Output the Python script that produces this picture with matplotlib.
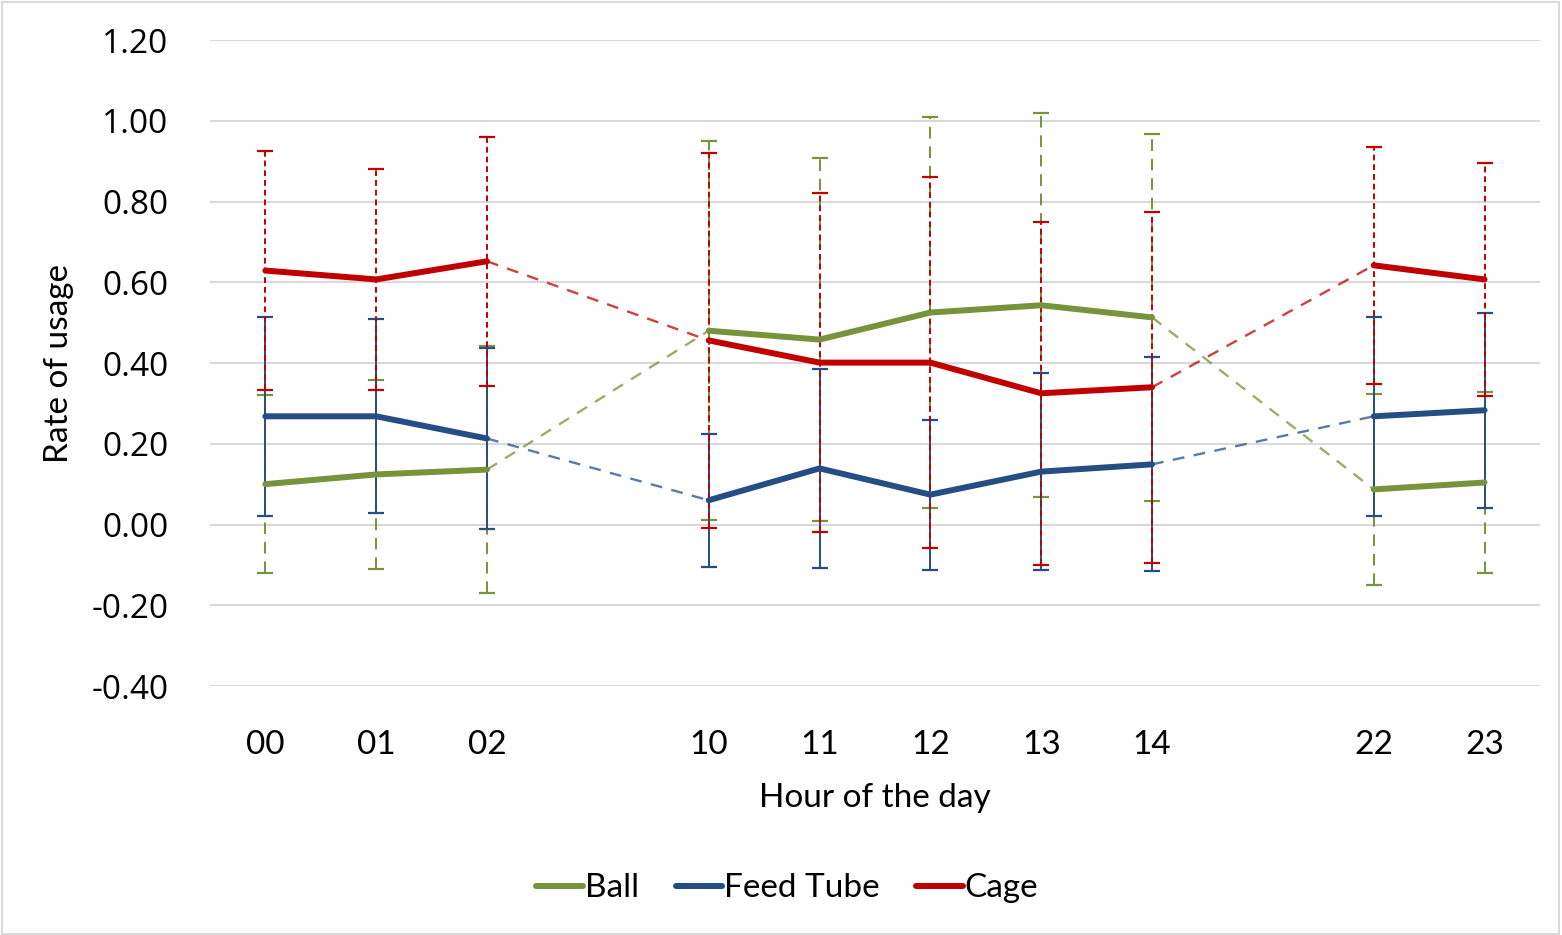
import matplotlib.pyplot as plt
from matplotlib.patches import Rectangle
import numpy as np

plt.rcParams['font.family'] = ['Lato', 'DejaVu Sans']

# category slots on the x axis (blank slots are the gaps between hour groups)
slots = ['00', '01', '02', '', '10', '11', '12', '13', '14', '', '22', '23']
hours = ['00', '01', '02', '10', '11', '12', '13', '14', '22', '23']

ball = [0.10, 0.124, 0.136, 0.48, 0.458, 0.525, 0.543, 0.513, 0.087, 0.104]
ball_err = [0.22, 0.235, 0.306, 0.47, 0.45, 0.485, 0.475, 0.455, 0.237, 0.225]

feed = [0.268, 0.268, 0.213, 0.06, 0.139, 0.074, 0.131, 0.149, 0.268, 0.283]
feed_err = [0.247, 0.24, 0.225, 0.165, 0.246, 0.186, 0.244, 0.265, 0.247, 0.242]

cage = [0.629, 0.607, 0.652, 0.456, 0.401, 0.401, 0.325, 0.34, 0.642, 0.607]
cage_err = [0.296, 0.273, 0.308, 0.464, 0.42, 0.46, 0.425, 0.435, 0.293, 0.288]

x = np.array([slots.index(h) for h in hours])

fig = plt.figure(figsize=(15.62, 9.35), dpi=100)
ax = fig.add_axes([0.1344, 0.2663, 0.8515, 0.6909])

series = [
    ('Ball', ball, ball_err, '#77933C', (0, (6, 4))),
    ('Feed Tube', feed, feed_err, '#254E84', '-'),
    ('Cage', cage, cage_err, '#C00000', (0, (3, 2))),
]

# error bars first so the lines sit on top
for i, (name, y, err, col, ls) in enumerate(series):
    eb = ax.errorbar(x, y, yerr=err, fmt='none', ecolor=col, elinewidth=1.4,
                     capsize=6, capthick=1.6, zorder=2 + i)
    eb[2][0].set_linestyle(ls)

for i, (name, y, err, col, ls) in enumerate(series):
    y = np.array(y)
    # split into runs of consecutive slots
    breaks = np.where(np.diff(x) > 1)[0]
    starts = np.r_[0, breaks + 1]
    ends = np.r_[breaks, len(x) - 1]
    for k, (s, e) in enumerate(zip(starts, ends)):
        ax.plot(x[s:e + 1], y[s:e + 1], color=col, lw=4.3,
                solid_capstyle='round', zorder=6,
                label=name if k == 0 else None)
    for b in breaks:
        ax.plot(x[b:b + 2], y[b:b + 2], color=col, lw=1.7, alpha=0.75,
                ls=(0, (5, 4)), zorder=5)

ax.set_xlim(-0.5, 11.5)
ax.set_ylim(-0.4, 1.2)
ax.set_yticks(np.arange(-0.4, 1.21, 0.2))
ax.set_yticklabels([f'{v:.2f}' for v in np.arange(-0.4, 1.21, 0.2)],
                   family=['Open Sans', 'DejaVu Sans'])
ax.set_xticks(range(len(slots)))
ax.set_xticklabels(slots)
ax.tick_params(axis='both', length=0, labelsize=24, labelcolor='black')
ax.tick_params(axis='y', pad=30)
ax.tick_params(axis='x', pad=32)
ax.grid(axis='y', color='#D9D9D9', lw=1.5)
ax.set_axisbelow(True)
for sp in ax.spines.values():
    sp.set_visible(False)

ax.set_xlabel('Hour of the day', fontsize=24, labelpad=16)
ax.set_ylabel('Rate of usage', fontsize=24, labelpad=12)

ax.legend(loc='center', ncol=3, frameon=False, fontsize=24,
          handlelength=1.4, handletextpad=0.05, columnspacing=1.1,
          bbox_to_anchor=(0.504, 0.05), bbox_transform=fig.transFigure)

fig.patches.append(Rectangle((0.001, 0.001), 0.997, 0.997, transform=fig.transFigure,
                             fill=False, edgecolor='#D9D9D9', lw=1.5))

fig.savefig('out.png', dpi=100)
